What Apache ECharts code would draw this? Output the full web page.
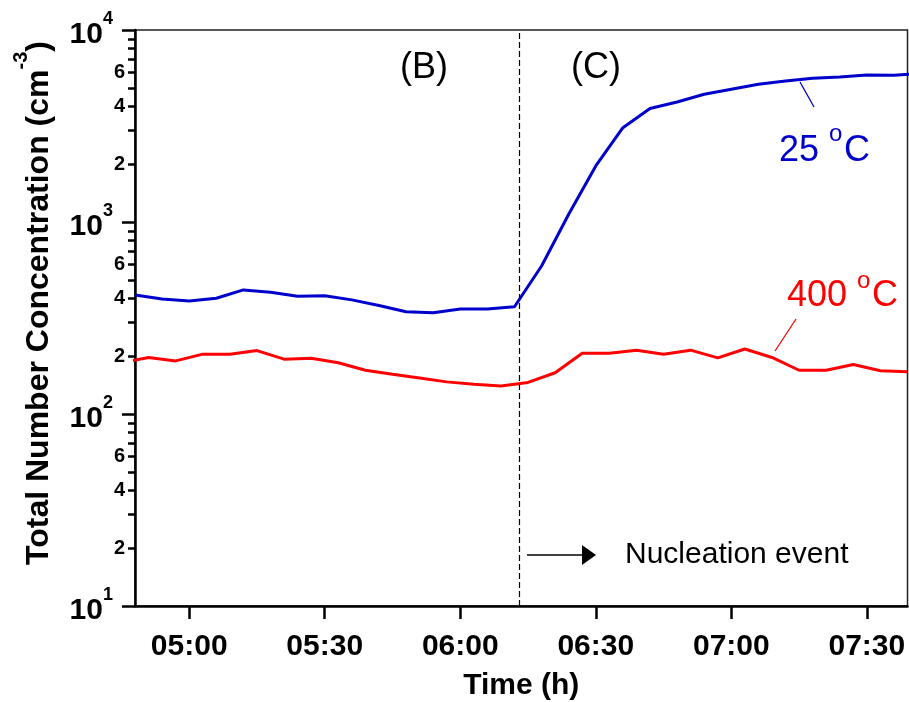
<!DOCTYPE html>
<html>
<head>
<meta charset="utf-8">
<script src="https://cdn.jsdelivr.net/npm/echarts@6/dist/echarts.min.js"></script>
<style>
  html, body { margin: 0; padding: 0; background: #fff; }
  #chart { width: 909px; height: 702px; }
</style>
</head>
<body>
<div id="chart"></div>
<script>
// Sampling times (hh:mm) and total number concentration (cm^-3)
const times25 = ['04:48','04:54','05:00','05:06','05:12','05:18','05:24','05:30','05:36','05:42',
                 '05:48','05:54','06:00','06:06','06:12','06:18','06:24','06:30','06:36','06:42',
                 '06:48','06:54','07:00','07:06','07:12','07:18','07:24','07:30','07:36','07:42'];
const conc25 = [417, 397, 388, 401, 443, 431, 410, 413, 393, 367,
                341, 337, 352, 352, 362, 590, 1097, 1958, 3098, 3900,
                4220, 4627, 4914, 5213, 5420, 5600, 5690, 5830, 5820, 5930];

const times400 = ['04:45','04:51','04:57','05:03','05:09','05:15','05:21','05:27','05:33','05:39',
                  '05:45','05:51','05:57','06:03','06:09','06:15','06:21','06:27','06:33','06:39',
                  '06:45','06:51','06:57','07:03','07:09','07:15','07:21','07:27','07:33','07:39'];
const conc400 = [185, 197, 189, 205, 205, 214, 193, 195, 185, 169,
                 161, 154, 147, 143, 140, 146, 164, 207, 207, 215,
                 205, 215, 196, 218, 197, 169, 169, 181, 168, 166];

// Axis settings
const timeRange = ['04:48', '07:39'];
const timeTickLabels = ['05:00', '05:30', '06:00', '06:30', '07:00', '07:30'];
const nucleationStart = '06:13';
const concRange = [10, 10000];
const decadeStarts = [10, 100, 1000];
const minorTickMantissas = [2, 3, 4, 5, 6, 7, 8, 9];
const minorLabelMantissas = [2, 4, 6];

const FONT = 'Liberation Sans, Arial, Helvetica, sans-serif';
const BLUE = '#0000cc';
const RED = '#ff0000';

const toMinutes = s => { const [h, m] = s.split(':').map(Number); return h * 60 + m; };
const toClock = v => {
  const h = Math.floor(v / 60), m = Math.round(v - h * 60);
  return String(h).padStart(2, '0') + ':' + String(m).padStart(2, '0');
};

// Intermediate tick positions on the log scale, expressed as exponents
const minorTickExp = [];
const minorLabelExp = [];
decadeStarts.forEach(d => {
  minorTickMantissas.forEach(m => minorTickExp.push(Math.log10(d * m)));
  minorLabelMantissas.forEach(m => minorLabelExp.push(Math.log10(d * m)));
});

const chart = echarts.init(document.getElementById('chart'), null, { renderer: 'canvas' });

const textEl = (x, y, text, color, size) => ({
  type: 'text', x, y,
  style: {
    text, fill: color, font: size + 'px ' + FONT,
    textAlign: 'left', align: 'left', textVerticalAlign: 'middle', verticalAlign: 'middle'
  }
});

chart.setOption({
  animation: false,
  backgroundColor: '#fff',
  textStyle: { fontFamily: FONT },
  grid: {
    left: 135, right: 1.5, top: 30, bottom: 96,
    show: true, borderColor: '#222', borderWidth: 1.5,
    containLabel: false, outerBoundsMode: 'none'
  },
  xAxis: {
    type: 'value',
    min: toMinutes(timeRange[0]),
    max: toMinutes(timeRange[1]),
    name: 'Time (h)',
    nameLocation: 'middle',
    nameGap: 65,
    nameTextStyle: { fontSize: 30, fontWeight: 'bold', color: '#000', fontFamily: FONT },
    axisLine: { show: true, onZero: false, lineStyle: { color: '#000', width: 2.5 } },
    axisTick: {
      show: true, inside: false, length: 13,
      customValues: timeTickLabels.map(toMinutes),
      lineStyle: { color: '#000', width: 2.5 }
    },
    axisLabel: {
      show: true, margin: 26,
      customValues: timeTickLabels.map(toMinutes),
      formatter: v => toClock(v),
      fontSize: 30, fontWeight: 'bold', color: '#000', fontFamily: FONT
    },
    splitLine: { show: false }
  },
  yAxis: [
    {
      type: 'log',
      logBase: 10,
      min: concRange[0],
      max: concRange[1],
      position: 'left',
      name: '{f|Total Number Concentration (cm}{s|-3}{m|)}',
      nameLocation: 'middle',
      nameRotate: 90,
      nameGap: 80,
      nameTextStyle: {
        color: '#000', fontFamily: FONT,
        rich: {
          f: { fontSize: 32, fontWeight: 'bold', color: '#000', fontFamily: FONT, padding: [12, 0, 0, 30] },
          m: { fontSize: 32, fontWeight: 'bold', color: '#000', fontFamily: FONT, padding: [12, 0, 0, 0] },
          s: { fontSize: 20, fontWeight: 'bold', color: '#000', fontFamily: FONT, verticalAlign: 'top' }
        }
      },
      axisLine: { show: true, onZero: false, lineStyle: { color: '#000', width: 2.5 } },
      axisTick: { show: true, inside: false, length: 13, lineStyle: { color: '#000', width: 2.5 } },
      axisLabel: {
        show: true, margin: 22, showMinLabel: true, showMaxLabel: true,
        formatter: v => '{b|10}{s|' + Math.round(Math.log10(v)) + '}',
        rich: {
          b: { fontSize: 30, fontWeight: 'bold', color: '#000', fontFamily: FONT, padding: [10, 0, 0, 0] },
          s: { fontSize: 18, fontWeight: 'bold', color: '#000', fontFamily: FONT, verticalAlign: 'top' }
        }
      },
      splitLine: { show: false },
      minorTick: { show: false }
    },
    {
      // same vertical extent, in decades, carrying the intermediate ticks 2..9
      type: 'value',
      min: Math.log10(concRange[0]),
      max: Math.log10(concRange[1]),
      position: 'left',
      axisLine: { show: false },
      axisTick: {
        show: true, inside: false, length: 7,
        customValues: minorTickExp,
        lineStyle: { color: '#000', width: 2.5 }
      },
      axisLabel: {
        show: true, margin: 10,
        customValues: minorLabelExp,
        formatter: v => String(Math.round(Math.pow(10, v - Math.floor(v + 1e-9)))),
        fontSize: 20, fontWeight: 'bold', color: '#000', fontFamily: FONT
      },
      splitLine: { show: false }
    }
  ],
  series: [
    {
      name: '25 °C',
      type: 'line',
      yAxisIndex: 0,
      showSymbol: false,
      symbol: 'none',
      clip: true,
      lineStyle: { color: BLUE, width: 3 },
      itemStyle: { color: BLUE },
      data: times25.map((t, i) => [toMinutes(t), conc25[i]]),
      z: 3
    },
    {
      name: '400 °C',
      type: 'line',
      yAxisIndex: 0,
      showSymbol: false,
      symbol: 'none',
      clip: true,
      lineStyle: { color: RED, width: 3 },
      itemStyle: { color: RED },
      data: times400.map((t, i) => [toMinutes(t), conc400[i]]),
      markLine: {
        silent: true,
        symbol: ['none', 'none'],
        label: { show: false },
        lineStyle: { color: '#000', width: 1.2, type: [6, 3] },
        data: [{ xAxis: toMinutes(nucleationStart) }]
      },
      z: 3
    }
  ],
  graphic: [
    { type: 'text', x: 424, y: 68, style: { text: '(B)', fill: '#000', font: '36px ' + FONT, textAlign: 'center', align: 'center', textVerticalAlign: 'middle', verticalAlign: 'middle' } },
    { type: 'text', x: 596, y: 68, style: { text: '(C)', fill: '#000', font: '36px ' + FONT, textAlign: 'center', align: 'center', textVerticalAlign: 'middle', verticalAlign: 'middle' } },

    textEl(779, 151, '25', BLUE, 36),
    textEl(829, 134, 'o', BLUE, 24),
    textEl(844, 151, 'C', BLUE, 36),
    { type: 'line', shape: { x1: 800, y1: 82, x2: 814, y2: 107 }, style: { stroke: BLUE, lineWidth: 1.3 } },

    textEl(787, 296, '400', RED, 36),
    textEl(857, 281, 'o', RED, 24),
    textEl(872, 296, 'C', RED, 36),
    { type: 'line', shape: { x1: 796, y1: 319, x2: 775, y2: 351 }, style: { stroke: RED, lineWidth: 1.3 } },

    { type: 'line', shape: { x1: 527, y1: 555, x2: 586, y2: 555 }, style: { stroke: '#000', lineWidth: 1.6 } },
    { type: 'polygon', shape: { points: [[582, 545], [596, 555], [582, 565]] }, style: { fill: '#000' } },
    textEl(625, 555, 'Nucleation event', '#000', 30)
  ]
});
</script>
</body>
</html>
